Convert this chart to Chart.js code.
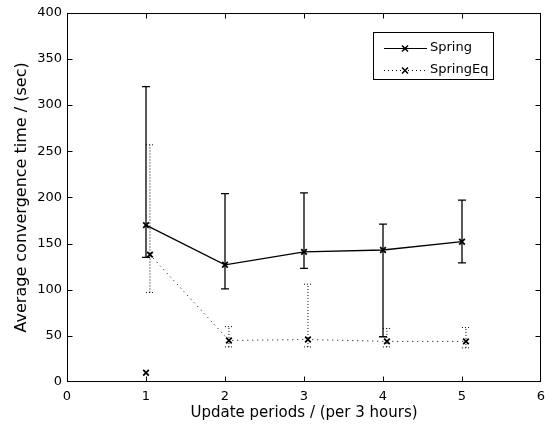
<!DOCTYPE html>
<html>
<head>
<meta charset="utf-8">
<script src="https://cdn.jsdelivr.net/npm/chart.js@4.4.0/dist/chart.umd.min.js"></script>
<style>
  html, body { margin: 0; padding: 0; background: #fff; }
  #wrap { width: 555px; height: 430px; }
</style>
</head>
<body>
<div id="wrap"><canvas id="chart" width="555" height="430"></canvas></div>
<script>
// update periods (x) and averages / error ranges
const springX = [1, 2, 3, 4, 5];
const springMean = [170, 127, 141, 143, 152];
const springLow = [135, 101, 123, 49, 129];
const springHigh = [320, 204, 205, 171, 197];

const eqX = [1.05, 2.05, 3.05, 4.05, 5.05];
const eqMean = [138, 45, 46, 44, 44];
const eqLow = [97, 38, 38, 38, 37];
const eqHigh = [257, 60, 106, 58, 59];

const strayX = [1];
const strayY = [10];

const xTicks = [0, 1, 2, 3, 4, 5, 6];
const yTicks = [0, 50, 100, 150, 200, 250, 300, 350, 400];

const FONT = "'DejaVu Sans', sans-serif";

const toPts = (xs, ys) => xs.map((x, i) => ({ x: x, y: ys[i] }));

const errorBars = {
  id: "errorBars",
  afterDatasetsDraw(chart) {
    const xs = chart.scales.x, ys = chart.scales.y;
    const ctx = chart.ctx;
    const groups = [
      { x: springX, lo: springLow, hi: springHigh, dash: [], w: 1.3 },
      { x: eqX, lo: eqLow, hi: eqHigh, dash: [1, 2], w: 1 }
    ];
    ctx.save();
    ctx.strokeStyle = "#000";
    groups.forEach(g => {
      ctx.setLineDash(g.dash);
      ctx.lineWidth = g.w;
      g.x.forEach((xv, i) => {
        const px = xs.getPixelForValue(xv);
        const lo = ys.getPixelForValue(g.lo[i]);
        const hi = ys.getPixelForValue(g.hi[i]);
        ctx.beginPath();
        ctx.moveTo(px, lo); ctx.lineTo(px, hi);
        ctx.moveTo(px - 4, lo); ctx.lineTo(px + 4, lo);
        ctx.moveTo(px - 4, hi); ctx.lineTo(px + 4, hi);
        ctx.stroke();
      });
    });
    ctx.restore();
  }
};

const frame = {
  id: "frame",
  afterDraw(chart) {
    const ca = chart.chartArea;
    const xs = chart.scales.x, ys = chart.scales.y;
    const ctx = chart.ctx;
    const L = Math.round(ca.left) + 0.5, R = Math.round(ca.right) - 0.5;
    const T = Math.round(ca.top) + 0.5, B = Math.round(ca.bottom) - 0.5;
    ctx.save();
    ctx.strokeStyle = "#000";
    ctx.lineWidth = 1;
    ctx.strokeRect(L, T, R - L, B - T);
    ctx.beginPath();
    xTicks.forEach(v => {
      const px = Math.min(R, Math.max(L, Math.round(xs.getPixelForValue(v)) + 0.5));
      ctx.moveTo(px, B); ctx.lineTo(px, B - 5);
      ctx.moveTo(px, T); ctx.lineTo(px, T + 5);
    });
    yTicks.forEach(v => {
      const py = Math.min(B, Math.max(T, Math.round(ys.getPixelForValue(v)) + 0.5));
      ctx.moveTo(L, py); ctx.lineTo(L + 5, py);
      ctx.moveTo(R, py); ctx.lineTo(R - 5, py);
    });
    ctx.stroke();

    // legend box
    const bx = 373, by = 32, bw = 120, bh = 47;
    ctx.fillStyle = "#fff";
    ctx.fillRect(bx, by, bw, bh);
    ctx.strokeRect(bx + 0.5, by + 0.5, bw, bh);
    const rows = [
      { label: "Spring", dash: [], y: 48 },
      { label: "SpringEq", dash: [1, 3], y: 70 }
    ];
    rows.forEach(r => {
      ctx.setLineDash(r.dash);
      ctx.beginPath();
      ctx.moveTo(384, r.y + 0.5); ctx.lineTo(427, r.y + 0.5);
      ctx.stroke();
      ctx.setLineDash([]);
      ctx.lineWidth = 1.5;
      ctx.beginPath();
      ctx.moveTo(402, r.y - 2.5); ctx.lineTo(408, r.y + 3.5);
      ctx.moveTo(408, r.y - 2.5); ctx.lineTo(402, r.y + 3.5);
      ctx.stroke();
      ctx.lineWidth = 1;
      ctx.fillStyle = "#000";
      ctx.font = "13px " + FONT;
      ctx.textBaseline = "middle";
      ctx.fillText(r.label, 430, r.y);
    });
    ctx.restore();
  }
};

new Chart(document.getElementById("chart"), {
  type: "scatter",
  data: {
    datasets: [
      {
        label: "Spring",
        data: toPts(springX, springMean),
        showLine: true,
        borderColor: "#000",
        borderWidth: 1.3,
        pointStyle: "crossRot",
        pointRadius: 4,
        pointBorderWidth: 1.8,
        pointBorderColor: "#000"
      },
      {
        label: "SpringEq",
        data: toPts(eqX, eqMean),
        showLine: true,
        borderColor: "#000",
        borderWidth: 1,
        borderDash: [1, 4],
        pointStyle: "crossRot",
        pointRadius: 4,
        pointBorderWidth: 1.8,
        pointBorderColor: "#000"
      },
      {
        label: "",
        data: toPts(strayX, strayY),
        showLine: false,
        pointStyle: "crossRot",
        pointRadius: 4,
        pointBorderWidth: 1.8,
        pointBorderColor: "#000"
      }
    ]
  },
  options: {
    responsive: false,
    animation: false,
    layout: { padding: { top: 9, right: 14, left: 0, bottom: 0 } },
    plugins: {
      legend: { display: false },
      tooltip: { enabled: false }
    },
    scales: {
      x: {
        type: "linear",
        min: 0,
        max: 6,
        afterFit: s => { s.height = 48; },
        afterBuildTicks: s => { s.ticks = xTicks.map(v => ({ value: v })); },
        grid: { display: false, drawTicks: false },
        border: { display: false },
        ticks: { color: "#000", font: { family: FONT, size: 13 }, padding: 7, maxRotation: 0 },
        title: {
          display: true,
          text: "Update periods / (per 3 hours)",
          color: "#000",
          font: { family: FONT, size: 15 },
          padding: { top: 0, bottom: 8 }
        }
      },
      y: {
        type: "linear",
        min: 0,
        max: 400,
        afterFit: s => { s.width = 67; },
        afterBuildTicks: s => { s.ticks = yTicks.map(v => ({ value: v })); },
        grid: { display: false, drawTicks: false },
        border: { display: false },
        ticks: { color: "#000", font: { family: FONT, size: 13 }, padding: 5 },
        title: {
          display: true,
          text: "Average convergence time / (sec)",
          color: "#000",
          font: { family: FONT, size: 16 },
          padding: { top: 12, bottom: 0 }
        }
      }
    }
  },
  plugins: [errorBars, frame]
});
</script>
</body>
</html>
